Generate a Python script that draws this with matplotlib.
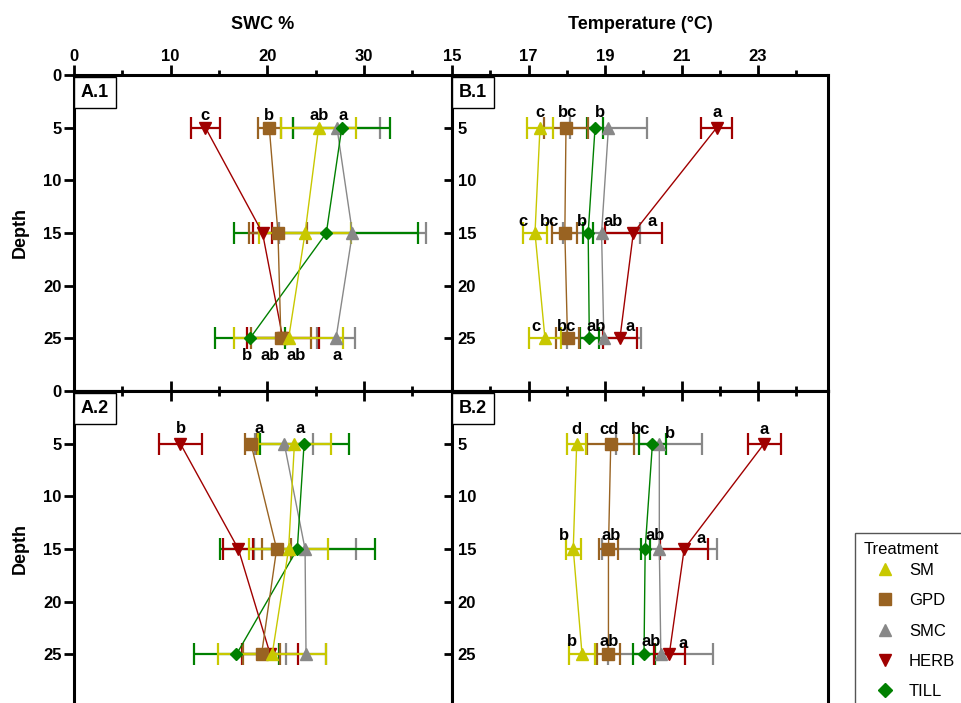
import matplotlib
matplotlib.use("Agg")
from matplotlib import pyplot as plt
from matplotlib.lines import Line2D
from matplotlib.patches import Rectangle
from matplotlib.ticker import MultipleLocator

plt.rcParams['font.family'] = ['Liberation Sans', 'DejaVu Sans']
plt.rcParams['font.weight'] = 'bold'

depths = [5, 15, 25]
treatments = ['SM', 'GPD', 'SMC', 'HERB', 'TILL']
colors = ['#c8c800', '#996322', '#888888', '#a00000', '#008000']
markers = ['^', 's', '^', 'v', 'D']
msizes = [9, 9, 9, 9, 6]

# rows follow treatments, columns follow depths
a1_mean = [[25.3, 23.9, 22.2], [20.2, 21.1, 21.4], [27.2, 28.8, 27.1],
           [13.6, 19.5, 21.6], [27.7, 26.1, 18.2]]
a1_err = [[3.9, 4.8, 5.6], [1.2, 3.0, 3.1], [4.5, 7.6, 2.0],
          [1.5, 1.0, 3.75], [5.0, 9.5, 3.6]]
a2_mean = [[22.8, 22.2, 20.5], [18.3, 20.96, 19.4], [21.75, 23.9, 24.0],
           [11.0, 17.0, 20.3], [23.8, 23.1, 16.8]]
a2_err = [[3.8, 4.1, 5.6], [0.6, 1.5, 1.9], [3.0, 5.3, 2.1],
          [2.2, 1.55, 2.9], [4.6, 8.0, 4.4]]
b1_mean = [[17.3, 17.17, 17.43], [17.98, 17.95, 18.02], [19.09, 18.91, 18.97],
           [21.92, 19.74, 19.39], [18.74, 18.56, 18.59]]
b1_err = [[0.35, 0.32, 0.43], [0.58, 0.33, 0.31], [1.0, 1.0, 0.96],
          [0.4, 0.75, 0.44], [0.22, 0.13, 0.25]]
b2_mean = [[18.26, 18.17, 18.4], [19.15, 19.09, 19.09], [20.42, 20.42, 20.46],
           [23.16, 21.07, 20.68], [20.24, 20.05, 20.02]]
b2_err = [[0.25, 0.2, 0.33], [0.62, 0.24, 0.29], [1.12, 1.5, 1.37],
          [0.43, 0.63, 0.4], [0.35, 0.12, 0.3]]

# significance letters: (depth, x, letter)
a1_letters = [(3.8, 13.6, 'c'), (3.8, 20.2, 'b'), (3.8, 25.4, 'ab'), (3.8, 27.8, 'a'),
              (26.6, 17.9, 'b'), (26.6, 20.3, 'ab'), (26.6, 23.0, 'ab'), (26.6, 27.2, 'a')]
a2_letters = [(3.6, 11.03, 'b'), (3.6, 19.1, 'a'), (3.6, 23.4, 'a')]
b1_letters = [(3.6, 17.3, 'c'), (3.6, 18.03, 'bc'), (3.6, 18.87, 'b'), (3.6, 21.92, 'a'),
              (13.9, 16.86, 'c'), (13.9, 17.56, 'bc'), (13.9, 18.41, 'b'),
              (13.9, 19.22, 'ab'), (13.9, 20.22, 'a'),
              (23.9, 17.2, 'c'), (23.9, 18.0, 'bc'), (23.9, 18.78, 'ab'), (23.9, 19.65, 'a')]
b2_letters = [(3.7, 18.26, 'd'), (3.7, 19.11, 'cd'), (3.7, 19.93, 'bc'), (4.0, 20.7, 'b'),
              (3.7, 23.16, 'a'),
              (13.7, 17.94, 'b'), (13.7, 19.16, 'ab'), (13.7, 20.32, 'ab'), (14.0, 21.5, 'a'),
              (23.75, 18.15, 'b'), (23.75, 19.11, 'ab'), (23.75, 20.22, 'ab'), (24.0, 21.03, 'a')]

W, H = 961, 703
fig = plt.figure(figsize=(W / 100, H / 100), dpi=100)

def box(x0, y0, x1, y1):
    return [x0 / W, 1 - y1 / H, (x1 - x0) / W, (y1 - y0) / H]

ax_a1 = fig.add_axes(box(74, 75, 452, 391))
ax_b1 = fig.add_axes(box(452, 75, 828, 391))
ax_a2 = fig.add_axes(box(74, 391, 452, 707))
ax_b2 = fig.add_axes(box(452, 391, 828, 707))

order = [2, 4, 3, 1, 0]

def draw(ax, mean, err, letters):
    for i in order:
        ax.errorbar(mean[i], depths, xerr=err[i], fmt='none', ecolor=colors[i],
                    elinewidth=1.6, capsize=8, capthick=1.6, zorder=2)
    for i in order:
        ax.plot(mean[i], depths, color=colors[i], lw=1, marker=markers[i],
                ms=msizes[i], mec=colors[i], mfc=colors[i], zorder=3)
    for y, x, t in letters:
        ax.text(x, y, t, ha='center', va='center', fontsize=12, fontweight='bold', zorder=5)

draw(ax_a1, a1_mean, a1_err, a1_letters)
draw(ax_a2, a2_mean, a2_err, a2_letters)
draw(ax_b1, b1_mean, b1_err, b1_letters)
draw(ax_b2, b2_mean, b2_err, b2_letters)

for ax in (ax_a1, ax_a2):
    ax.set_xlim(0, 39.1)
    ax.xaxis.set_major_locator(MultipleLocator(10))
    ax.xaxis.set_minor_locator(MultipleLocator(5))
for ax in (ax_b1, ax_b2):
    ax.set_xlim(15, 24.83)
    ax.set_xticks([15, 17, 19, 21, 23])
    ax.xaxis.set_minor_locator(MultipleLocator(1))

for ax in (ax_a1, ax_a2, ax_b1, ax_b2):
    ax.set_ylim(30, 0)
    for s in ax.spines.values():
        s.set_linewidth(2.2)
    ax.tick_params(width=2, labelsize=12)
    ax.tick_params(which='minor', width=2)

# top panels: tick labels on top
for ax in (ax_a1, ax_b1):
    ax.tick_params(axis='x', which='major', top=True, bottom=False, labeltop=True,
                   labelbottom=False, direction='out', length=7, pad=1)
    ax.tick_params(axis='x', which='minor', top=True, bottom=False, direction='out', length=3.5)
for ax in (ax_a2, ax_b2):
    ax.tick_params(axis='x', which='major', top=True, bottom=False, labeltop=False,
                   labelbottom=False, direction='in', length=7)
    ax.tick_params(axis='x', which='minor', top=True, bottom=False, direction='in', length=3.5)
# inward bottom ticks of the top panels
for ax in (ax_a1, ax_b1):
    sec = ax.secondary_xaxis('bottom')
    sec.set_xticks(ax.get_xticks())
    sec.xaxis.set_minor_locator(MultipleLocator(5 if ax is ax_a1 else 1))
    sec.tick_params(which='major', direction='in', length=7, width=2, labelbottom=False)
    sec.tick_params(which='minor', direction='in', length=3.5, width=2)
    sec.spines['bottom'].set_linewidth(2.2)

for ax in (ax_a1, ax_a2):
    ax.set_yticks([0, 5, 10, 15, 20, 25])
    ax.tick_params(axis='y', direction='out', length=7, pad=2)
    ax.set_ylabel('Depth', fontsize=13, fontweight='bold', labelpad=10)
for ax in (ax_b1, ax_b2):
    ax.set_yticks([5, 10, 15, 20, 25])
    ax.tick_params(axis='y', direction='out', length=6, pad=-10)
    for lab in ax.get_yticklabels():
        lab.set_ha('left')

ax_a1.set_xlim(0, 39.1)
ax_b1.set_xlim(15, 24.83)

ax_a1.xaxis.set_label_position('top')
ax_a1.set_xlabel('SWC %', fontsize=13, fontweight='bold', labelpad=14)
ax_b1.xaxis.set_label_position('top')
ax_b1.set_xlabel('Temperature (°C)', fontsize=13, fontweight='bold', labelpad=14)

for ax, name in ((ax_a1, 'A.1'), (ax_b1, 'B.1'), (ax_a2, 'A.2'), (ax_b2, 'B.2')):
    ax.text(0.0556, 0.9446, name, transform=ax.transAxes, ha='center', va='center',
            fontsize=13, fontweight='bold', zorder=6,
            bbox=dict(boxstyle='square,pad=0.38', fc='white', ec='black', lw=1))

# legend: frame and title drawn separately
fig.patches.append(Rectangle((855 / W, -0.05), 0.2, (1 - 533 / H) + 0.05,
                             transform=fig.transFigure, fill=False,
                             ec='#555555', lw=1))
fig.text(864 / W, 1 - 550 / H, 'Treatment', ha='left', va='center',
         fontsize=12, fontweight='normal')
handles = [Line2D([], [], ls='none', marker=markers[i], color=colors[i],
                  ms=msizes[i] + (1 if markers[i] == 'D' else 0), label=treatments[i])
           for i in range(5)]
fig.legend(handles=handles, loc='upper left', bbox_to_anchor=(868 / W, 1 - 563 / H),
           borderaxespad=0, borderpad=0, frameon=False, labelspacing=0.92,
           handlelength=2.0, handletextpad=0.46,
           prop={'weight': 'normal', 'size': 12})

fig.savefig('out.png', dpi=100)
